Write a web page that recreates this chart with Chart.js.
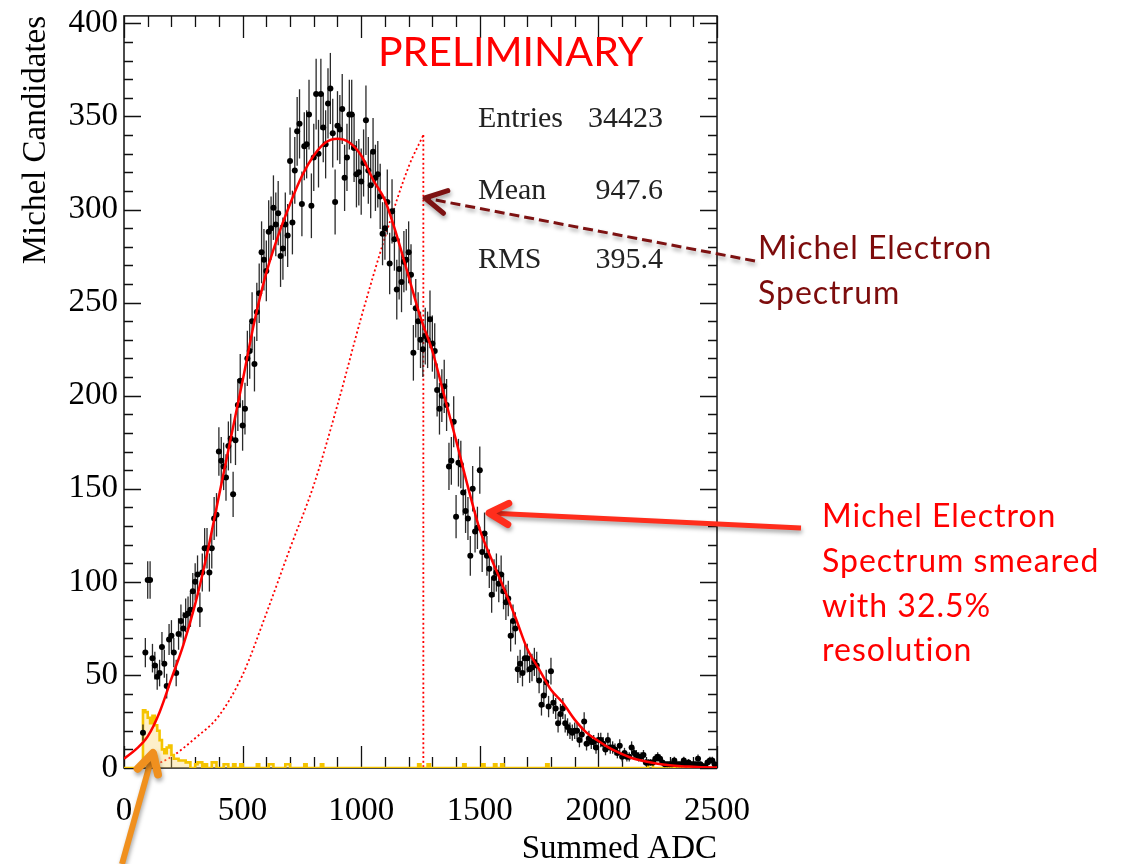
<!DOCTYPE html>
<html>
<head>
<meta charset="utf-8">
<script src="https://cdn.jsdelivr.net/npm/chart.js@4.4.1/dist/chart.umd.min.js"></script>
<style>
  html, body { margin: 0; padding: 0; background: #fff; }
  #wrap { width: 1123px; height: 864px; }
</style>
</head>
<body>
<div id="wrap"><canvas id="michel" width="1123" height="864"></canvas></div>
<script>
// Michel candidate histogram, 10 ADC bins starting at 80
const firstBin = 80;
const binWidth = 10;
const michelCounts = [
  19, 62, 101, 101, 59, 55, 49, 51, 65, 56,
  44, 69, 71, 62, 51, 72, 79, 75, 82, 83,
  85, 95, 100, 104, 85, 105, 118, 118, 105, 118,
  134, 136, 170, 165, 162, 156, 173, 177, 147, 176,
  195, 208, 184, 193, 220, 224, 240, 217, 245, 255,
  277, 273, 267, 288, 290, 301, 292, 298, 275, 279,
  292, 286, 326, 293, 321, 342, 346, 303, 334, 335,
  351, 302, 328, 362, 330, 362, 344, 335, 357, 365,
  341, 304, 345, 343, 354, 317, 328, 351, 351, 333,
  319, 320, 315, 325, 348, 321, 313, 331, 317, 319,
  307, 287, 290, 304, 271, 299, 284, 257, 268, 261,
  272, 273, 277, 265, 223, 247, 240, 230, 225, 232,
  230, 241, 228, 224, 203, 193, 200, 205, 195, 162,
  165, 186, 135, 164, 163, 148, 138, 134, 114, 150,
  127, 129, 160, 116, 126, 114, 107, 93, 102, 105,
  99, 104, 95, 89, 91, 71, 79, 75, 53, 56,
  51, 59, 59, 53, 54, 57, 55, 47, 34, 39,
  46, 33, 52, 35, 32, 24, 29, 32, 24, 22,
  20, 19, 20, 20, 15, 18, 25, 13, 16, 14,
  14, 11, 15, 15, 13, 10, 15, 11, 11, 10,
  8, 12, 6, 8, 6, 6, 11, 8, 7, 6,
  6, 7, 3, 3, 3, 3, 5, 6, 5, 3,
  2, 2, 2, 2, 4, 2, 2, 2, 4, 2,
  3, 2, 2, 2, 5, 2, 1, 1, 3, 4,
  4, 2
];

// smeared spectrum fit
const fitAdc = [
  0, 50, 100, 150, 200, 250, 300, 350, 400, 450,
  500, 550, 600, 650, 700, 750, 800, 850, 900, 950,
  1000, 1050, 1100, 1150, 1200, 1250, 1300, 1350, 1400, 1450,
  1500, 1550, 1600, 1650, 1700, 1750, 1800, 1850, 1900, 1950,
  2000, 2050, 2100, 2150, 2200, 2250, 2300, 2350, 2400, 2450, 2500
];
const fitValues = [
  5, 10, 17, 30, 48, 66, 88, 115, 146, 177,
  208, 240, 266, 286, 303, 318, 329, 336, 338, 336,
  329, 316, 305, 286, 264, 242, 224, 200, 176, 151,
  128, 112, 97, 81, 64, 53, 42, 35, 26, 19,
  14.5, 10.5, 7.5, 5, 3.5, 2.3, 1.5, 1, 0.7, 0.4, 0.3
];

// unsmeared Michel spectrum and its endpoint
const spectrumAdc = [100, 200, 300, 400, 500, 600, 700, 800, 900, 1000, 1100, 1200, 1262];
const spectrumValues = [0, 6, 16, 28, 50, 83, 118, 152, 195, 242, 285, 323, 340];
const endpointAdc = [1262, 1262];
const endpointValues = [340, 0];

// background histogram (left bin edges)
const bkgEdges = [
  0, 80, 90, 100, 110, 120, 130, 140, 150, 160,
  170, 180, 190, 200, 210, 230, 260, 280, 300, 310,
  330, 340, 350, 370, 390, 420, 440, 460, 470, 490,
  500, 560, 570, 610, 630, 680, 700, 760, 770, 830,
  840, 1240, 1250, 1280, 1290, 1430, 1440, 1510, 1520, 1560,
  1570, 1590, 1600, 1780, 1790, 2210, 2230, 2350, 2360, 2430,
  2440, 2500
];
const bkgCounts = [
  0, 31, 30, 27, 24, 28, 23, 20, 15, 10,
  8, 11, 12, 7, 5, 4, 3, 0, 2, 3,
  0, 2, 0, 3, 0, 2, 0, 2, 0, 2,
  0, 2, 0, 2, 0, 2, 0, 2, 0, 2,
  0, 2, 0, 2, 0, 2, 0, 2, 0, 2,
  0, 2, 0, 2, 0, 2, 0, 2, 0, 2,
  0, 0
];

const xTickValues = [0, 500, 1000, 1500, 2000, 2500];
const yTickValues = [0, 50, 100, 150, 200, 250, 300, 350, 400];
const statNames = ['Entries', 'Mean', 'RMS'];
const statNumbers = ['34423', '947.6', '395.4'];

const serif = '"Liberation Serif", "DejaVu Serif", serif';
const sans = 'Lato, "Open Sans", sans-serif';

const pairs = (xs, ys) => xs.map((x, i) => ({ x: x, y: ys[i] }));
const michelPoints = michelCounts.map((c, i) => ({ x: firstBin + i * binWidth, y: c }));

// sqrt(N) error bars under the black markers
const errorBars = {
  id: 'errorBars',
  beforeDatasetDraw(chart, args) {
    if (args.meta.label !== 'data') return;
    const { ctx, scales: { x, y } } = chart;
    ctx.save();
    ctx.strokeStyle = '#2a2a2a';
    ctx.lineWidth = 1.3;
    michelPoints.forEach(p => {
      const e = Math.sqrt(p.y);
      const px = x.getPixelForValue(p.x);
      ctx.beginPath();
      ctx.moveTo(px, y.getPixelForValue(p.y - e));
      ctx.lineTo(px, y.getPixelForValue(p.y + e));
      ctx.stroke();
    });
    ctx.restore();
  }
};

// frame with inward ticks on all four sides
const rootFrame = {
  id: 'rootFrame',
  beforeDatasetsDraw(chart) {
    const { ctx, chartArea: a, scales: { x, y } } = chart;
    ctx.save();
    ctx.strokeStyle = '#111';
    ctx.lineWidth = 1.5;
    ctx.strokeRect(a.left, a.top, a.right - a.left, a.bottom - a.top);
    ctx.lineWidth = 1.3;
    ctx.beginPath();
    for (let v = 0; v <= 2500; v += 100) {
      const px = Math.round(x.getPixelForValue(v)) + 0.5;
      const len = v % 500 === 0 ? 22 : 11;
      ctx.moveTo(px, a.bottom); ctx.lineTo(px, a.bottom - len);
      ctx.moveTo(px, a.top); ctx.lineTo(px, a.top + len);
    }
    for (let v = 0; v <= 400; v += 10) {
      const py = Math.round(y.getPixelForValue(v)) + 0.5;
      const len = v % 50 === 0 ? 17 : 9;
      ctx.moveTo(a.left, py); ctx.lineTo(a.left + len, py);
      ctx.moveTo(a.right, py); ctx.lineTo(a.right - len, py);
    }
    ctx.stroke();
    ctx.restore();
  },
  afterDraw(chart) {
    const ctx = chart.ctx;
    ctx.save();

    // stats box
    ctx.filter = 'blur(0.5px)';
    ctx.fillStyle = '#222';
    ctx.font = '30px ' + serif;
    const statBase = [127, 199, 268];
    statNames.forEach((n, i) => {
      ctx.textAlign = 'left';
      ctx.fillText(n, 478, statBase[i]);
      ctx.textAlign = 'right';
      ctx.fillText(statNumbers[i], 663, statBase[i]);
    });
    ctx.filter = 'none';

    ctx.textAlign = 'left';
    ctx.fillStyle = '#ff0000';
    ctx.font = '41px ' + sans;
    ctx.fillText('PRELIMINARY', 378, 66);

    ctx.font = '32px ' + sans;
    ctx.letterSpacing = '1px';
    ctx.fillStyle = '#7d0c0c';
    ctx.fillText('Michel Electron', 758, 259);
    ctx.fillText('Spectrum', 758, 304);

    ctx.fillStyle = '#ff0000';
    ['Michel Electron', 'Spectrum smeared', 'with 32.5%', 'resolution']
      .forEach((t, i) => ctx.fillText(t, 822, [527, 572, 617, 661][i]));
    ctx.letterSpacing = '0px';

    drawArrow(ctx, 755, 261, 425, 198, '#7d1212', 3, [10, 5], 24);
    drawArrow(ctx, 801, 528, 489, 513, '#ff2d1c', 5, [], 22);
    drawArrow(ctx, 122, 864, 153, 753, '#f0901e', 6, [], 22);
    ctx.restore();
  }
};

function drawArrow(ctx, x1, y1, x2, y2, color, width, dash, head) {
  const ang = Math.atan2(y1 - y2, x1 - x2);
  ctx.save();
  ctx.shadowColor = 'rgba(0,0,0,0.35)';
  ctx.shadowBlur = 4;
  ctx.shadowOffsetX = 1;
  ctx.shadowOffsetY = 3;
  ctx.strokeStyle = color;
  ctx.lineWidth = width;
  ctx.lineCap = 'butt';
  ctx.setLineDash(dash);
  ctx.beginPath();
  ctx.moveTo(x1, y1);
  ctx.lineTo(x2, y2);
  ctx.stroke();
  ctx.setLineDash([]);
  ctx.lineWidth = width + 2;
  ctx.lineCap = 'round';
  ctx.lineJoin = 'round';
  ctx.beginPath();
  ctx.moveTo(x2 + head * Math.cos(ang + 0.5), y2 + head * Math.sin(ang + 0.5));
  ctx.lineTo(x2, y2);
  ctx.lineTo(x2 + head * Math.cos(ang - 0.5), y2 + head * Math.sin(ang - 0.5));
  ctx.stroke();
  ctx.restore();
}

new Chart(document.getElementById('michel'), {
  type: 'scatter',
  data: {
    datasets: [
      {
        label: 'spectrum',
        type: 'line',
        data: pairs(spectrumAdc, spectrumValues),
        borderColor: '#ff0000',
        borderWidth: 1.8,
        borderDash: [2, 2.6],
        cubicInterpolationMode: 'monotone',
        pointRadius: 0,
        order: 6
      },
      {
        label: 'endpoint',
        type: 'line',
        data: pairs(endpointAdc, endpointValues),
        borderColor: '#ff0000',
        borderWidth: 1.8,
        borderDash: [2, 2.6],
        pointRadius: 0,
        order: 5
      },
      {
        label: 'background',
        type: 'line',
        data: pairs(bkgEdges, bkgCounts),
        stepped: true,
        borderColor: '#f5c400',
        borderWidth: 2.6,
        backgroundColor: 'rgba(250, 210, 100, 0.35)',
        fill: 'origin',
        pointRadius: 0,
        order: 4
      },
      {
        label: 'data',
        data: michelPoints,
        pointRadius: 3,
        pointBackgroundColor: '#000',
        pointBorderWidth: 0,
        order: 3
      },
      {
        label: 'fit',
        type: 'line',
        data: pairs(fitAdc, fitValues),
        borderColor: '#ff0000',
        borderWidth: 2.5,
        cubicInterpolationMode: 'monotone',
        pointRadius: 0,
        order: 1
      }
    ]
  },
  options: {
    responsive: false,
    animation: false,
    events: [],
    layout: { padding: { top: 13, right: 406, left: 0, bottom: 0 } },
    plugins: { legend: { display: false }, tooltip: { enabled: false } },
    scales: {
      x: {
        type: 'linear',
        min: 0,
        max: 2500,
        afterBuildTicks: s => { s.ticks = xTickValues.map(v => ({ value: v })); },
        afterFit: s => { s.height = 96; },
        grid: { display: false, drawTicks: false },
        border: { display: false },
        ticks: {
          font: { family: serif, size: 33 }, color: '#000', padding: 24,
          maxRotation: 0, autoSkip: false, callback: v => String(v)
        },
        title: {
          display: true, text: 'Summed ADC', align: 'end', color: '#000',
          font: { family: serif, size: 33 }, padding: { top: 0, bottom: -5 }
        }
      },
      y: {
        min: 0,
        max: 404,
        afterBuildTicks: s => { s.ticks = yTickValues.map(v => ({ value: v })); },
        afterFit: s => { s.width = 124; },
        grid: { display: false, drawTicks: false },
        border: { display: false },
        ticks: {
          font: { family: serif, size: 33, lineHeight: 0.6 }, color: '#000', padding: 6,
          autoSkip: false, callback: v => String(v)
        },
        title: {
          display: true, text: 'Michel Candidates', align: 'end', color: '#000',
          font: { family: serif, size: 33 }, padding: { top: 17, bottom: 0 }
        }
      }
    }
  },
  plugins: [errorBars, rootFrame]
});
</script>
</body>
</html>
